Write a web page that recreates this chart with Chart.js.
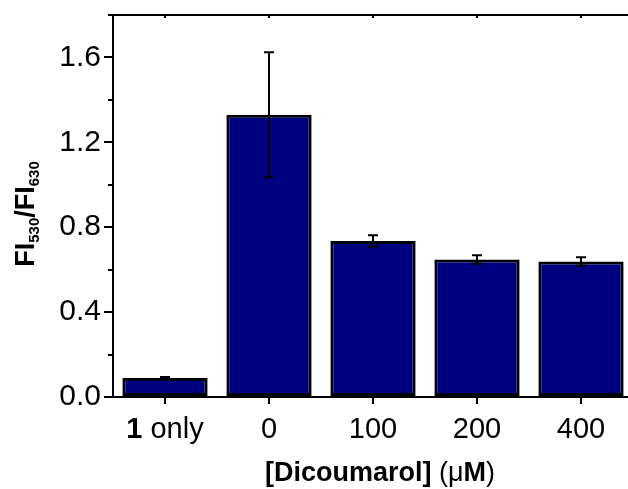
<!DOCTYPE html>
<html>
<head>
<meta charset="utf-8">
<script src="https://cdn.jsdelivr.net/npm/chart.js@4"></script>
<style>
  html, body { margin: 0; padding: 0; background: #fff; overflow: hidden; }
</style>
</head>
<body>
<canvas id="bar-chart" width="640" height="489"></canvas>
<script>
// data
const categories = ['1 only', '0', '100', '200', '400'];
const ratios = [0.09, 1.33, 0.735, 0.648, 0.638];
const errors = [0.004, 0.295, 0.027, 0.02, 0.02];
const compoundNo = '1'; // printed bold in the first category label

const yMin = 0;
const yMax = 1.8;
const yStep = 0.4;

const FONT = '"Liberation Sans", Arial, sans-serif';

// draw a row of text pieces, centred on x: [text, size, bold, dy]
function drawRuns(ctx, runs, x, y) {
  const fontOf = r => (r[2] ? 'bold ' : '') + r[1] + 'px ' + FONT;
  let total = 0;
  runs.forEach(r => { ctx.font = fontOf(r); total += ctx.measureText(r[0]).width; });
  let cx = x - total / 2;
  runs.forEach(r => {
    ctx.font = fontOf(r);
    ctx.fillText(r[0], cx, y + (r[3] || 0));
    cx += ctx.measureText(r[0]).width;
  });
}

const extras = {
  id: 'extras',
  afterDatasetsDraw(chart) {
    const { ctx, scales: { x, y } } = chart;
    ctx.save();
    ctx.strokeStyle = '#000';
    ctx.lineWidth = 2;
    ratios.forEach((v, i) => {
      const px = Math.round(x.getPixelForValue(i));
      const top = y.getPixelForValue(v + errors[i]);
      const bot = y.getPixelForValue(v - errors[i]);
      ctx.beginPath();
      ctx.moveTo(px, top); ctx.lineTo(px, bot);
      ctx.moveTo(px - 5, top); ctx.lineTo(px + 5, top);
      ctx.moveTo(px - 5, bot); ctx.lineTo(px + 5, bot);
      ctx.stroke();
    });
    ctx.restore();
  },
  afterDraw(chart) {
    const { ctx, chartArea: area, scales: { x, y } } = chart;
    ctx.save();
    ctx.strokeStyle = '#000';
    ctx.fillStyle = '#000';
    ctx.lineWidth = 2;

    // top frame line with small ticks
    ctx.beginPath();
    ctx.moveTo(area.left - 1, area.top);
    ctx.lineTo(area.right, area.top);
    categories.forEach((c, i) => {
      const px = Math.round(x.getPixelForValue(i));
      ctx.moveTo(px, area.top);
      ctx.lineTo(px, area.top + 3);
    });
    ctx.stroke();

    // minor ticks on y
    ctx.beginPath();
    for (let v = yMin + yStep / 2; v < yMax; v += yStep) {
      const py = Math.round(y.getPixelForValue(v));
      ctx.moveTo(area.left, py);
      ctx.lineTo(area.left - 5, py);
    }
    ctx.stroke();

    // category labels
    ctx.textBaseline = 'alphabetic';
    categories.forEach((c, i) => {
      const px = x.getPixelForValue(i);
      let runs;
      if (c.startsWith(compoundNo + ' ')) {
        runs = [[compoundNo, 29, true], [c.slice(compoundNo.length), 29, false]];
      } else {
        runs = [[c, 29, false]];
      }
      drawRuns(ctx, runs, px, area.bottom + 41);
    });

    // x title
    drawRuns(ctx, [
      ['[Dicoumarol] ', 27, true],
      ['(', 27, false],
      ['\u03BC', 27, false],
      ['M', 27, true],
      [')', 27, false]
    ], 380, area.bottom + 84);

    // y title
    ctx.translate(34, 214);
    ctx.rotate(-Math.PI / 2);
    drawRuns(ctx, [
      ['FI', 27, true],
      ['530', 15, true, 5],
      ['/FI', 27, true],
      ['630', 15, true, 5]
    ], 0, 0);
    ctx.restore();
  }
};

const ctx = document.getElementById('bar-chart').getContext('2d');
new Chart(ctx, {
  type: 'bar',
  data: {
    labels: categories,
    datasets: [
      {
        data: ratios,
        backgroundColor: '#000080',
        borderColor: '#000',
        borderWidth: 3,
        borderSkipped: false,
        categoryPercentage: 1,
        barPercentage: 0.82,
      },
    ],
  },
  options: {
    responsive: false,
    animation: false,
    layout: { padding: { top: 15, right: 7, bottom: 0, left: 0 } },
    plugins: {
      legend: { display: false },
      tooltip: { enabled: false },
    },
    scales: {
      x: {
        offset: true,
        ticks: { display: false },
        grid: {
          offset: false,
          drawOnChartArea: false,
          tickLength: 7,
          lineWidth: 2,
          color: '#000',
        },
        border: { color: '#000', width: 2 },
        afterFit: scale => {
          scale.height = 92;
          scale.paddingLeft = 0;
          scale.paddingRight = 0;
        },
      },
      y: {
        min: yMin,
        max: yMax,
        ticks: {
          stepSize: yStep,
          includeBounds: false,
          color: '#000',
          padding: 3,
          font: { family: FONT, size: 30 },
          callback: v => v.toFixed(1),
        },
        grid: {
          drawOnChartArea: false,
          tickLength: 9,
          lineWidth: 2,
          color: '#000',
        },
        border: { color: '#000', width: 2 },
        afterFit: scale => {
          scale.width = 113;
          scale.paddingTop = 0;
          scale.paddingBottom = 0;
        },
      },
    },
  },
  plugins: [extras],
});
</script>
</body>
</html>
